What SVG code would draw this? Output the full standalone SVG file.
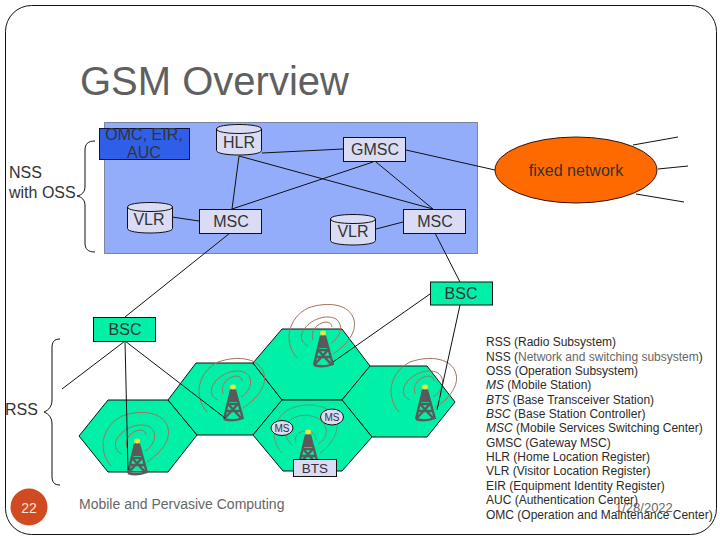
<svg xmlns="http://www.w3.org/2000/svg" width="720" height="540" viewBox="0 0 720 540" xmlns:xlink="http://www.w3.org/1999/xlink">
<style>
text{font-family:"Liberation Sans",Arial,sans-serif;fill:#333}
.n{fill:#d9dcf4;stroke:#111;stroke-width:1}
.g{fill:#00f0a8;stroke:#111;stroke-width:1}
.hex{fill:#00f0a8;stroke:#111;stroke-width:1}
.lbl{font-size:16px;text-anchor:middle}
.c line{stroke:#111;stroke-width:1}
.brace{fill:none;stroke:#111;stroke-width:1}
.list{font-size:12px;fill:#2a2a2a}
.arc{fill:none;stroke:#a8705a;stroke-width:1}
.arcg{fill:none;stroke:#5f9a70;stroke-width:1}
.tw{fill:none;stroke:#5a5a5a;stroke-width:2.400}
</style>
<defs>
<g id="tower">
<path class="tw" d="M-2 2L-9 31M2 2L10 31M-5 16L5 16M-7 23L8 23M-5 16L8 30M5 16L-8 30"/>
<path d="M-9 31Q0 34 10 30" class="tw"/>
<path d="M-3 3L0 -2L3 3L5 14L-5 14Z" fill="#5a5a5a"/>
<ellipse cx="0" cy="-1" rx="3" ry="2.400" fill="#e8e840"/>
</g>
<g id="arcs">
<path class="arc" d="M10 20C25 10 34 -3 31 -14C27 -30 5 -33 -15 -26C-35 -16 -40 8 -26 24"/>
<path class="arc" d="M8 9C18 3 21 -9 13 -15C2 -21 -16 -13 -21 -1C-23 5 -20 10 -15 12"/>
<path class="arc" d="M-10 6C-13 -3 -6 -11 3 -12C6 -12 9 -10 9 -7"/>
</g>
<path id="cyl" d="M0 4.500C0 -1.500 45 -1.500 45 4.500V26C45 32 0 32 0 26Z"/>
</defs>
<rect id="slide" x="5.500" y="5.500" width="711" height="529" rx="26" fill="#fff" stroke="#111" stroke-width="1"/>
<text id="title" x="80" y="95" font-size="40" style="fill:#606060">GSM Overview</text>
<rect id="nss-area" x="104.500" y="122.500" width="373" height="131" fill="#93adfa" stroke="#334" stroke-width="1" stroke-dasharray="1 1"/>
<g id="cells">
<polygon class="hex" points="79,436 108,400 168,400 197,435 168,472 108,472"/>
<polygon class="hex" points="168,400 196,363 253,363 282,400 253,435 197,435"/>
<polygon class="hex" points="253,363 282,329 342,329 370,366 342,400 282,400"/>
<polygon class="hex" points="342,400 370,366 427,366 455,402 427,437 372,437"/>
<polygon class="hex" points="282,400 342,400 372,437 342,471 283,471 253,435"/>
</g>
<g id="towers">
<use xlink:href="#arcs" href="#arcs" x="137" y="442"/><use xlink:href="#tower" href="#tower" x="137" y="442"/>
<use xlink:href="#arcs" href="#arcs" x="233" y="388"/><use xlink:href="#tower" href="#tower" x="233" y="388"/>
<use xlink:href="#arcs" href="#arcs" x="323" y="334"/><use xlink:href="#tower" href="#tower" x="323" y="334"/>
<use xlink:href="#arcs" href="#arcs" x="425" y="388"/><use xlink:href="#tower" href="#tower" x="425" y="388"/>
<path class="arcg" d="M282 453C270 440 272 422 285 412C298 402 325 402 335 416C342 428 332 445 320 453"/>
<path class="arcg" d="M293 446C282 436 283 424 293 418C305 412 322 416 326 428C328 435 323 441 318 444"/>
<path class="arcg" d="M296 444C293 436 299 431 306 431C312 431 316 434 316 440"/>
<use xlink:href="#tower" href="#tower" x="308" y="433"/>
</g>
<g id="connectors" class="c">
<line x1="262" y1="153" x2="343" y2="149"/>
<line x1="239" y1="156" x2="232" y2="209"/>
<line x1="239" y1="156" x2="433" y2="209"/>
<line x1="232" y1="209" x2="373" y2="162"/>
<line x1="376" y1="162" x2="433" y2="209"/>
<line x1="172" y1="217" x2="199" y2="221"/>
<line x1="376" y1="229" x2="403" y2="222"/>
<line x1="406" y1="150" x2="495" y2="170"/>
<line x1="633" y1="145" x2="678" y2="137"/>
<line x1="658" y1="169" x2="688" y2="166"/>
<line x1="636" y1="194" x2="684" y2="202"/>
<line x1="435" y1="233" x2="460" y2="282"/>
<line x1="460" y1="305" x2="437" y2="410"/>
<line x1="430" y1="294" x2="333" y2="362"/>
<line x1="230" y1="233" x2="125" y2="317"/>
<line x1="125" y1="341" x2="62" y2="389"/>
<line x1="125" y1="341" x2="128" y2="470"/>
<line x1="125" y1="341" x2="225" y2="418"/>
</g>
<g id="omc"><rect x="99.500" y="128.500" width="90" height="31" fill="#2f5fe8" stroke="#113"/><text class="lbl" x="144" y="140">OMC, EIR,</text><text class="lbl" x="144" y="158">AUC</text></g>
<g id="hlr"><use xlink:href="#cyl" href="#cyl" x="216.500" y="124.500" class="n"/><path class="n" d="M216.500 129C216.500 135 261.500 135 261.500 129" style="fill:none"/><text class="lbl" x="239" y="148">HLR</text></g>
<g id="gmsc"><rect class="n" x="343.500" y="137.500" width="62" height="24"/><text class="lbl" x="375" y="155">GMSC</text></g>
<g id="vlr1"><use xlink:href="#cyl" href="#cyl" x="127.500" y="202.500" class="n"/><path class="n" d="M127.500 207C127.500 213 172.500 213 172.500 207" style="fill:none"/><text class="lbl" x="149" y="225">VLR</text></g>
<g id="msc1"><rect class="n" x="199.500" y="209.500" width="62" height="24"/><text class="lbl" x="231" y="227">MSC</text></g>
<g id="vlr2"><use xlink:href="#cyl" href="#cyl" x="330.500" y="214.500" class="n"/><path class="n" d="M330.500 219C330.500 225 375.500 225 375.500 219" style="fill:none"/><text class="lbl" x="353" y="237">VLR</text></g>
<g id="msc2"><rect class="n" x="403.500" y="209.500" width="62" height="24"/><text class="lbl" x="435" y="227">MSC</text></g>
<g id="fixed"><ellipse cx="576" cy="170" rx="81" ry="33" fill="#ff6a00" stroke="#311"/><text class="lbl" x="576" y="176">fixed network</text></g>
<g id="bsc1"><rect class="g" x="430.500" y="282" width="62" height="23"/><text class="lbl" x="461" y="299">BSC</text></g>
<g id="bsc2"><rect class="g" x="93.500" y="317.500" width="62" height="24"/><text class="lbl" x="125" y="335">BSC</text></g>
<g id="ms1"><ellipse class="n" cx="282" cy="428" rx="11" ry="7.500"/><text x="282" y="432" font-size="10" text-anchor="middle">MS</text></g>
<g id="ms2"><ellipse class="n" cx="332" cy="417" rx="11.500" ry="8"/><text x="332" y="421" font-size="10" text-anchor="middle">MS</text></g>
<g id="bts"><rect class="n" x="293.500" y="459.500" width="43" height="17"/><text x="315" y="473" font-size="13.500" text-anchor="middle">BTS</text></g>
<path class="brace" d="M95 141C88 141 85 144 85 150V186C85 192 82 195 77 196C82 197 85 200 85 206V243C85 249 88 252 95 252"/>
<path class="brace" d="M60 339C54 339 52 342 52 348V400C52 406 49 410 44 412C49 414 52 418 52 424V476C52 482 54 485 60 485"/>
<text x="9" y="178" font-size="16">NSS</text>
<text x="9" y="198" font-size="16">with OSS</text>
<text x="5" y="415" font-size="16">RSS</text>
<g id="page"><circle cx="29" cy="507" r="18.500" fill="#d04a22"/><text x="29" y="512.500" font-size="14" text-anchor="middle" style="fill:#ffe8d8">22</text></g>
<text x="79" y="509" font-size="14" style="fill:#666">Mobile and Pervasive Computing</text>
<text x="615" y="512" font-size="13" style="fill:#666">1/28/2022</text>
<g id="legend" class="list">
<text class="list" x="486" y="346">RSS (Radio Subsystem)</text>
<text class="list" x="486" y="360.500">NSS (<tspan style="fill:#666">Network and switching subsystem</tspan>)</text>
<text class="list" x="486" y="375">OSS (Operation Subsystem)</text>
<text class="list" x="486" y="389"><tspan font-style="italic">MS</tspan> (Mobile Station)</text>
<text class="list" x="486" y="403.500"><tspan font-style="italic">BTS</tspan> (Base Transceiver Station)</text>
<text class="list" x="486" y="417.500"><tspan font-style="italic">BSC</tspan> (Base Station Controller)</text>
<text class="list" x="486" y="432"><tspan font-style="italic">MSC</tspan> (Mobile Services Switching Center)</text>
<text class="list" x="486" y="446.500">GMSC (Gateway MSC)</text>
<text class="list" x="486" y="460.500">HLR (Home Location Register)</text>
<text class="list" x="486" y="475">VLR (Visitor Location Register)</text>
<text class="list" x="486" y="489.500">EIR (Equipment Identity Register)</text>
<text class="list" x="486" y="504">AUC (Authentication Center)</text>
<text class="list" x="486" y="518.500">OMC (Operation and Maintenance Center)</text>
</g>
</svg>
